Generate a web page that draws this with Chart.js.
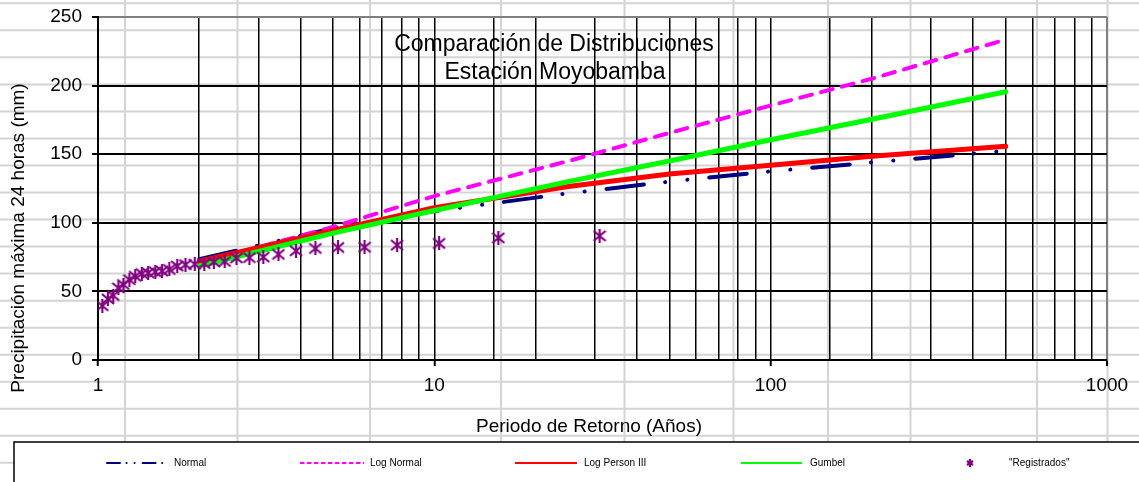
<!DOCTYPE html>
<html>
<head>
<meta charset="utf-8">
<script src="https://cdn.jsdelivr.net/npm/chart.js@4.4.1/dist/chart.umd.min.js"></script>
<style>
  html, body { margin: 0; padding: 0; background: #fff; }
  #wrap { width: 1139px; height: 482px; }
  canvas { display: block; }
</style>
</head>
<body>
<div id="wrap"><canvas id="chart" width="1139" height="482"></canvas></div>
<script>
// Return periods (years) at which the fitted distributions are evaluated
const returnPeriods = [2, 5, 10, 25, 50, 100, 200, 500];

// Maximum 24 h precipitation (mm) for each fitted distribution
const normalValues     = [73.5, 96, 108.5, 121.5, 130, 137.5, 144, 152.5];
const logNormalValues  = [70.5, 97, 119.5, 145, 165.5, 185.5, 205, 233.5];
const logPearsonValues = [72, 94.5, 111, 126.5, 135.5, 142, 148.5, 155.8];
const gumbelValues     = [68.5, 92.5, 109, 130, 145, 160.5, 175.5, 195.5];

// Recorded annual maxima and their plotting return periods
const observedPeriods = [31, 15.5, 10.33, 7.75, 6.2, 5.17, 4.43, 3.88, 3.44, 3.1,
                         2.82, 2.58, 2.38, 2.21, 2.07, 1.94, 1.82, 1.72, 1.63, 1.55,
                         1.48, 1.41, 1.35, 1.29, 1.24, 1.19, 1.15, 1.11, 1.07, 1.03];
const observedValues  = [90.5, 89, 85, 83.7, 82.2, 82, 81.3, 79.6, 77, 75,
                         74.6, 74.3, 71.8, 71.5, 70.2, 69.8, 69.5, 68.5, 66, 64.8,
                         64.3, 63.5, 63, 61, 58.5, 55, 52.5, 47, 44.5, 39.5];

// Axis labelling
const xTickLabels = [1, 10, 100, 1000];
const yMin = 0, yMax = 250, yStep = 50;

const titleLines = ['Comparación de Distribuciones', 'Estación Moyobamba'];
const xTitle = 'Periodo de Retorno (Años)';
const yTitle = 'Precipitación máxima 24 horas (mm)';

const FONT = "'Liberation Sans', Arial, sans-serif";

function pairs(xs, ys) {
  return xs.map((x, i) => ({ x: x, y: ys[i] }));
}

// Asterisk-like marker: an X crossed by a vertical stroke
function starMarker(size, lw, color) {
  const c = document.createElement('canvas');
  c.width = size; c.height = size;
  const g = c.getContext('2d');
  g.strokeStyle = color;
  g.lineWidth = lw;
  const a = 1, b = size - 1;
  g.beginPath();
  g.moveTo(a, a + 1); g.lineTo(b, b - 1);
  g.moveTo(b, a + 1); g.lineTo(a, b - 1);
  g.moveTo(size / 2, 0); g.lineTo(size / 2, size);
  g.stroke();
  return c;
}
const pointMark = starMarker(14, 2.2, '#800080');
const legendMark = starMarker(8, 2.2, '#800080');

function isDecade(v) {
  const l = Math.log10(v);
  return Math.abs(l - Math.round(l)) < 1e-9;
}

// Worksheet cell grid showing behind the transparent chart
const sheetGrid = {
  id: 'sheetGrid',
  beforeDraw(chart) {
    const ctx = chart.ctx;
    const W = chart.width, H = chart.height;
    ctx.save();
    ctx.fillStyle = '#ffffff';
    ctx.fillRect(0, 0, W, H);
    ctx.strokeStyle = '#d4d4d4';
    ctx.lineWidth = 2;
    const cols = [125, 237.5, 370, 501, 624.5, 733.5, 828, 910.5, 1037, 1107.5];
    ctx.beginPath();
    cols.forEach(x => { ctx.moveTo(x, 0); ctx.lineTo(x, H); });
    for (let y = 3.3; y < H; y += 27.03) { ctx.moveTo(0, y); ctx.lineTo(W, y); }
    ctx.stroke();
    ctx.restore();
  }
};

// Chart title inside the plot, axis titles and the boxed legend
const annotations = {
  id: 'annotations',
  afterDraw(chart) {
    const ctx = chart.ctx;
    ctx.save();
    ctx.fillStyle = '#000';

    // title
    ctx.font = '23px ' + FONT;
    ctx.textAlign = 'center';
    ctx.textBaseline = 'middle';
    ctx.fillText(titleLines[0], 554, 45);
    ctx.fillText(titleLines[1], 555, 73);

    // axis titles
    ctx.font = '19px ' + FONT;
    ctx.fillText(xTitle, 589, 427);
    ctx.save();
    ctx.translate(19, 238);
    ctx.rotate(-Math.PI / 2);
    ctx.fillText(yTitle, 0, 0);
    ctx.restore();

    // legend box
    ctx.fillStyle = '#fff';
    ctx.fillRect(14, 442, 1140, 50);
    ctx.strokeStyle = '#000';
    ctx.lineWidth = 1.5;
    ctx.strokeRect(14, 442, 1140, 50);

    const slots = [
      { x0: 107, x1: 163, tx: 174 },
      { x0: 300, x1: 364, tx: 370 },
      { x0: 515, x1: 577, tx: 584 },
      { x0: 741, x1: 802, tx: 810 },
      { x0: 942, x1: 998, tx: 1009 }
    ];
    const legendDash = [[13, 6.5, 0.1, 7.9, 0.1, 8], [4.5, 2.5], [], [], []];
    const ly = 463;
    ctx.font = '10px ' + FONT;
    ctx.textAlign = 'left';
    ctx.textBaseline = 'middle';
    chart.data.datasets.forEach((ds, i) => {
      const s = slots[i];
      if (ds.showLine === false) {
        ctx.drawImage(legendMark, Math.round((s.x0 + s.x1) / 2 - 4), ly - 4);
      } else {
        ctx.save();
        ctx.strokeStyle = ds.borderColor;
        ctx.lineWidth = 2;
        ctx.lineCap = i === 0 ? 'round' : 'butt';
        ctx.setLineDash(legendDash[i]);
        ctx.beginPath();
        ctx.moveTo(s.x0, ly);
        ctx.lineTo(s.x1, ly);
        ctx.stroke();
        ctx.restore();
      }
      ctx.fillStyle = '#000';
      ctx.fillText(ds.label, s.tx, ly);
    });
    ctx.restore();
  }
};

const lineBase = { pointRadius: 0, fill: false, tension: 0, borderJoinStyle: 'round' };

new Chart(document.getElementById('chart'), {
  type: 'line',
  data: {
    datasets: [
      Object.assign({
        label: 'Normal',
        data: pairs(returnPeriods, normalValues),
        borderColor: '#000080',
        borderWidth: 4,
        borderCapStyle: 'round',
        borderDash: [37.7, 21.3, 0.1, 22.3, 0.1, 21.9],
        order: 4
      }, lineBase),
      Object.assign({
        label: 'Log Normal',
        data: pairs(returnPeriods, logNormalValues),
        borderColor: '#ff00ff',
        borderWidth: 4,
        borderCapStyle: 'round',
        borderDash: [12, 9.5],
        order: 3
      }, lineBase),
      Object.assign({
        label: 'Log Person III',
        data: pairs(returnPeriods, logPearsonValues),
        borderColor: '#ff0000',
        borderWidth: 5,
        borderCapStyle: 'round',
        order: 2
      }, lineBase),
      Object.assign({
        label: 'Gumbel',
        data: pairs(returnPeriods, gumbelValues),
        borderColor: '#00ff00',
        borderWidth: 5,
        borderCapStyle: 'round',
        order: 1
      }, lineBase),
      {
        label: '"Registrados"',
        data: pairs(observedPeriods, observedValues),
        showLine: false,
        borderColor: '#800080',
        backgroundColor: '#800080',
        pointStyle: pointMark,
        pointRadius: 7,
        order: 0
      }
    ]
  },
  options: {
    responsive: false,
    animation: false,
    devicePixelRatio: 1,
    layout: { padding: { top: 17, right: 32, left: 0, bottom: 0 } },
    plugins: {
      legend: { display: false },
      title: { display: false },
      tooltip: { enabled: false }
    },
    scales: {
      x: {
        type: 'logarithmic',
        min: 1,
        max: 1000,
        ticks: {
          autoSkip: false,
          maxRotation: 0,
          minRotation: 0,
          color: '#000',
          padding: 8,
          font: { family: FONT, size: 19 },
          callback: (v) => (xTickLabels.includes(Math.round(v)) && isDecade(v)) ? String(Math.round(v)) : ''
        },
        grid: {
          color: (c) => (c.tick && Math.round(c.tick.value) === 1000) ? '#808080' : '#000',
          lineWidth: (c) => (c.tick && Math.round(c.tick.value) === 1000) ? 2 : 1.5,
          tickLength: 6,
          tickWidth: 2,
          tickColor: (c) => (c.tick && isDecade(c.tick.value)) ? '#000' : 'rgba(0,0,0,0)'
        },
        border: { display: true, color: '#000', width: 2 },
        afterFit: (s) => { s.height = 122; s.paddingLeft = 0; s.paddingRight = 0; }
      },
      y: {
        type: 'linear',
        min: yMin,
        max: yMax,
        ticks: {
          stepSize: yStep,
          color: '#000',
          padding: 10,
          font: { family: FONT, size: 19 }
        },
        grid: {
          color: (c) => (c.tick && c.tick.value === yMax) ? '#808080' : '#000',
          lineWidth: 2,
          tickLength: 6,
          tickWidth: 2,
          tickColor: '#000'
        },
        border: { display: true, color: '#000', width: 2 },
        afterFit: (s) => { s.width = 98; s.paddingTop = 0; s.paddingBottom = 0; }
      }
    }
  },
  plugins: [sheetGrid, annotations]
});
</script>
</body>
</html>
